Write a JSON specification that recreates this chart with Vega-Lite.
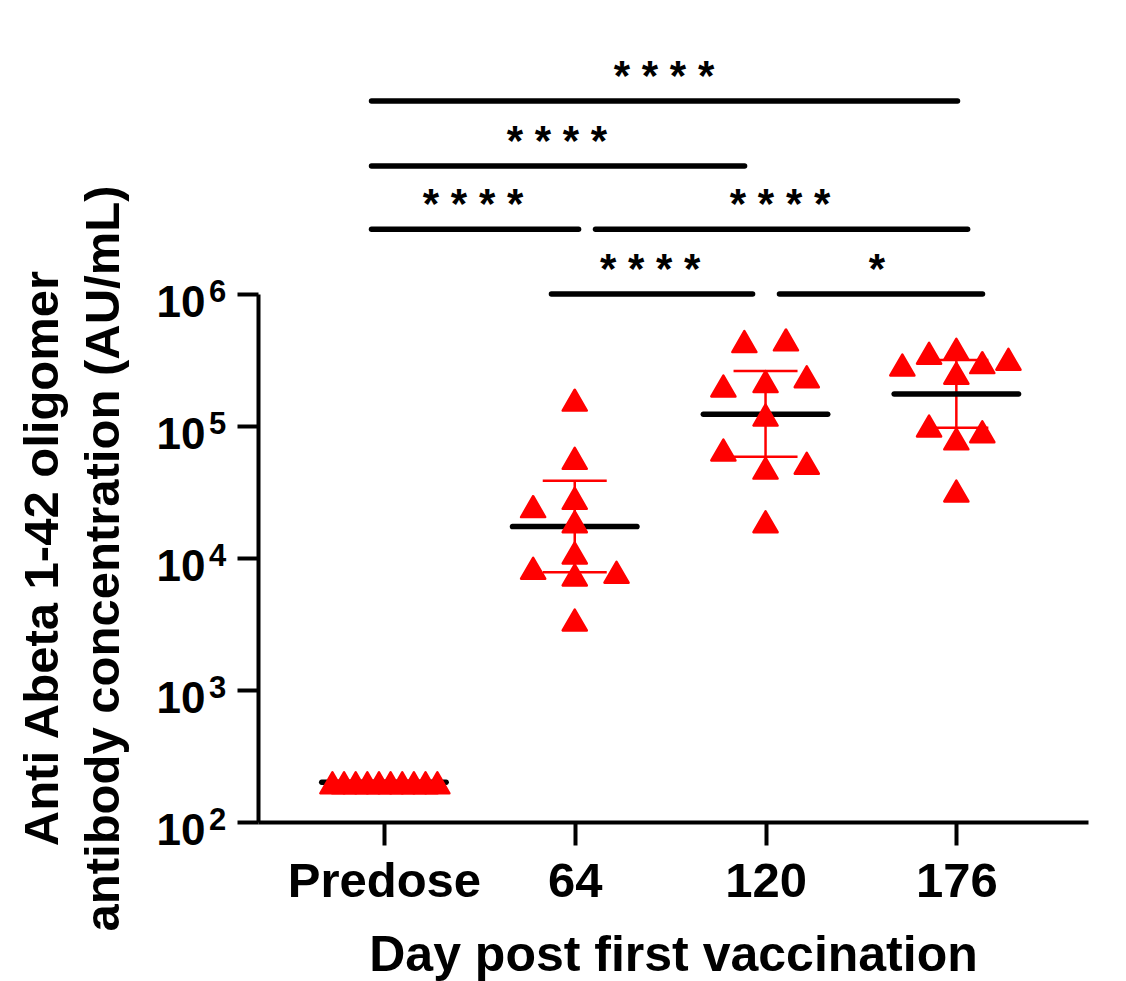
{
  "$schema": "https://vega.github.io/schema/vega-lite/v6.json",
  "width": 830,
  "height": 528,
  "autosize": "none",
  "padding": {"left": 258, "top": 294, "right": 38, "bottom": 159},
  "background": "white",
  "config": {"view": {"stroke": null}, "font": "Liberation Sans"},
  "datasets": {
    "points": [
      {"day": "Predose", "pos": 0.730, "conc": 198},
      {"day": "Predose", "pos": 0.791, "conc": 198},
      {"day": "Predose", "pos": 0.852, "conc": 198},
      {"day": "Predose", "pos": 0.913, "conc": 198},
      {"day": "Predose", "pos": 0.974, "conc": 198},
      {"day": "Predose", "pos": 1.035, "conc": 198},
      {"day": "Predose", "pos": 1.096, "conc": 198},
      {"day": "Predose", "pos": 1.157, "conc": 198},
      {"day": "Predose", "pos": 1.218, "conc": 198},
      {"day": "Predose", "pos": 1.280, "conc": 198},
      {"day": "64", "pos": 2.000, "conc": 157000},
      {"day": "64", "pos": 2.000, "conc": 56900},
      {"day": "64", "pos": 1.782, "conc": 24500},
      {"day": "64", "pos": 2.000, "conc": 28300},
      {"day": "64", "pos": 2.000, "conc": 18800},
      {"day": "64", "pos": 2.000, "conc": 10900},
      {"day": "64", "pos": 1.782, "conc": 8360},
      {"day": "64", "pos": 2.000, "conc": 7430},
      {"day": "64", "pos": 2.219, "conc": 7800},
      {"day": "64", "pos": 2.000, "conc": 3390},
      {"day": "120", "pos": 2.889, "conc": 436000},
      {"day": "120", "pos": 3.107, "conc": 449000},
      {"day": "120", "pos": 2.779, "conc": 201000},
      {"day": "120", "pos": 3.000, "conc": 217000},
      {"day": "120", "pos": 3.216, "conc": 236000},
      {"day": "120", "pos": 3.000, "conc": 121000},
      {"day": "120", "pos": 2.779, "conc": 65800},
      {"day": "120", "pos": 3.000, "conc": 47900},
      {"day": "120", "pos": 3.216, "conc": 52200},
      {"day": "120", "pos": 3.000, "conc": 18800},
      {"day": "176", "pos": 3.717, "conc": 290000},
      {"day": "176", "pos": 3.857, "conc": 356000},
      {"day": "176", "pos": 4.000, "conc": 381000},
      {"day": "176", "pos": 4.136, "conc": 302000},
      {"day": "176", "pos": 4.273, "conc": 320000},
      {"day": "176", "pos": 4.000, "conc": 251000},
      {"day": "176", "pos": 3.857, "conc": 100000},
      {"day": "176", "pos": 4.136, "conc": 90500},
      {"day": "176", "pos": 4.000, "conc": 79800},
      {"day": "176", "pos": 4.000, "conc": 32200}
    ],
    "summary": [
      {"day": "Predose", "pos": 1, "median": 200, "lo": null, "hi": null},
      {"day": "64", "pos": 2, "median": 17300, "lo": 7800, "hi": 38500},
      {"day": "120", "pos": 3, "median": 123000, "lo": 58500, "hi": 261000},
      {"day": "176", "pos": 4, "median": 175000, "lo": 97000, "hi": 316000}
    ],
    "sig": [
      {"from": 0.935, "to": 4.006, "level": 29000000},
      {"from": 0.935, "to": 2.890, "level": 9330000},
      {"from": 0.935, "to": 2.020, "level": 3100000},
      {"from": 2.109, "to": 4.059, "level": 3100000},
      {"from": 1.878, "to": 2.932, "level": 1000000},
      {"from": 3.073, "to": 4.137, "level": 1000000}
    ],
    "stars": [
      {"pos": 2.468, "level": 29000000, "label": "* * * *"},
      {"pos": 1.907, "level": 9330000, "label": "* * * *"},
      {"pos": 1.467, "level": 3100000, "label": "* * * *"},
      {"pos": 3.076, "level": 3100000, "label": "* * * *"},
      {"pos": 2.395, "level": 1000000, "label": "* * * *"},
      {"pos": 3.584, "level": 1000000, "label": "*"}
    ],
    "exponents": [
      {"decade": 100, "exp": "2"},
      {"decade": 1000, "exp": "3"},
      {"decade": 10000, "exp": "4"},
      {"decade": 100000, "exp": "5"},
      {"decade": 1000000, "exp": "6"}
    ]
  },
  "layer": [
    {
      "data": {"name": "summary"},
      "mark": {"type": "rule", "color": "red", "strokeWidth": 2.5},
      "encoding": {
        "x": {
          "field": "pos", "type": "quantitative",
          "scale": {"domain": [0.34, 4.69], "nice": false, "zero": false},
          "axis": {
            "values": [1, 2, 3, 4],
            "labelExpr": "['', 'Predose', '64', '120', '176'][datum.value]",
            "title": "Day post first vaccination",
            "grid": false,
            "domainWidth": 4, "domainColor": "black",
            "tickWidth": 4, "tickColor": "black", "tickSize": 23,
            "labelFontSize": 49, "labelFontWeight": "bold", "labelColor": "black",
            "labelPadding": 12, "labelFlush": false, "labelOverlap": false, "labelBound": false, "labelLimit": 0,
            "titleFontSize": 50, "titleFontWeight": "bold", "titleColor": "black",
            "titleY": 148, "titleBaseline": "alphabetic"
          }
        },
        "y": {
          "field": "lo", "type": "quantitative",
          "scale": {"type": "log", "domain": [100, 1000000], "nice": false},
          "axis": {
            "values": [100, 1000, 10000, 100000, 1000000],
            "labelExpr": "'10'",
            "title": ["Anti Abeta 1-42 oligomer", "antibody concentration (AU/mL)"],
            "grid": false,
            "domainWidth": 4, "domainColor": "black",
            "tickWidth": 4, "tickColor": "black", "tickSize": 21,
            "labelFontSize": 44, "labelFontWeight": "bold", "labelColor": "black",
            "labelPadding": 32, "labelBaseline": "alphabetic", "labelOffset": 22,
            "labelFlush": false, "labelOverlap": false, "labelBound": false, "labelLimit": 0,
            "titleFontSize": 49, "titleFontWeight": "bold", "titleColor": "black",
            "titleAngle": -90, "titleX": -201, "titleY": 264,
            "titleAlign": "center", "titleBaseline": "alphabetic", "titleLineHeight": 61
          }
        },
        "y2": {"field": "hi"}
      }
    },
    {
      "data": {"name": "summary"},
      "mark": {"type": "tick", "orient": "horizontal", "size": 64, "thickness": 2.5, "color": "red", "opacity": 1},
      "encoding": {
        "x": {"field": "pos", "type": "quantitative"},
        "y": {"field": "hi", "type": "quantitative"}
      }
    },
    {
      "data": {"name": "summary"},
      "mark": {"type": "tick", "orient": "horizontal", "size": 64, "thickness": 2.5, "color": "red", "opacity": 1},
      "encoding": {
        "x": {"field": "pos", "type": "quantitative"},
        "y": {"field": "lo", "type": "quantitative"}
      }
    },
    {
      "data": {"name": "summary"},
      "mark": {"type": "tick", "orient": "horizontal", "size": 130, "thickness": 5.5, "color": "black", "opacity": 1, "cornerRadius": 2.7},
      "encoding": {
        "x": {"field": "pos", "type": "quantitative"},
        "y": {"field": "median", "type": "quantitative"}
      }
    },
    {
      "data": {"name": "points"},
      "mark": {"type": "point", "shape": "triangle-up", "filled": true, "fill": "red", "stroke": "red", "strokeWidth": 2.5, "strokeJoin": "round", "size": 580, "opacity": 1},
      "encoding": {
        "x": {"field": "pos", "type": "quantitative"},
        "y": {"field": "conc", "type": "quantitative"}
      }
    },
    {
      "data": {"name": "sig"},
      "mark": {"type": "rule", "color": "black", "strokeWidth": 5.5, "strokeCap": "round"},
      "encoding": {
        "x": {"field": "from", "type": "quantitative"},
        "x2": {"field": "to"},
        "y": {"field": "level", "type": "quantitative"}
      }
    },
    {
      "data": {"name": "stars"},
      "mark": {"type": "text", "fontSize": 42, "fontWeight": "bold", "color": "black", "align": "center", "baseline": "alphabetic", "dy": -11},
      "encoding": {
        "x": {"field": "pos", "type": "quantitative"},
        "y": {"field": "level", "type": "quantitative"},
        "text": {"field": "label"}
      }
    },
    {
      "data": {"name": "exponents"},
      "mark": {"type": "text", "fontSize": 31, "fontWeight": "bold", "color": "black", "align": "left", "baseline": "alphabetic", "dx": -49, "dy": 8},
      "encoding": {
        "x": {"datum": 0.34},
        "y": {"field": "decade", "type": "quantitative"},
        "text": {"field": "exp"}
      }
    }
  ]
}
